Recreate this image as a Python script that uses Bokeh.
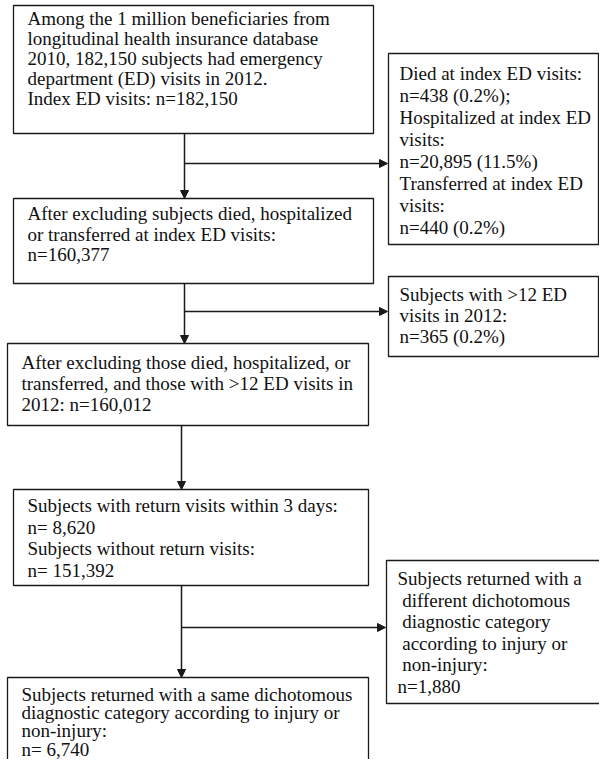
from bokeh.plotting import figure
from bokeh.models import Range1d, Arrow, NormalHead
from bokeh.core.properties import value
from bokeh.embed import file_html
from bokeh.resources import INLINE

# ---- content ----
main_texts = [
    ["Among the 1 million beneficiaries from",
     "longitudinal health insurance database",
     "2010, 182,150 subjects had emergency",
     "department (ED) visits in 2012.",
     "Index ED visits: n=182,150"],
    ["After excluding subjects died, hospitalized",
     "or transferred at index ED visits:",
     "n=160,377"],
    ["After excluding those died, hospitalized, or",
     "transferred, and those with >12 ED visits in",
     "2012: n=160,012"],
    ["Subjects with return visits within 3 days:",
     "n= 8,620",
     "Subjects without return visits:",
     "n= 151,392"],
    ["Subjects returned with a same dichotomous",
     "diagnostic category according to injury or",
     "non-injury:",
     "n= 6,740"],
]
side_texts = [
    ["Died at index ED visits:",
     "n=438 (0.2%);",
     "Hospitalized at index ED",
     "visits:",
     "n=20,895 (11.5%)",
     "Transferred at index ED",
     "visits:",
     "n=440 (0.2%)"],
    ["Subjects with >12 ED",
     "visits in 2012:",
     "n=365 (0.2%)"],
    ["Subjects returned with a",
     "\u00a0different dichotomous",
     "\u00a0diagnostic category",
     "\u00a0according to injury or",
     "\u00a0non-injury:",
     "n=1,880"],
]

# ---- layout (page pixel coordinates) ----
main_boxes = [(13, 5, 373, 133), (13, 198, 373, 283), (7, 343, 368, 425),
              (13, 489, 368, 585), (7, 677, 368, 775)]
main_lines = [(18, 20), (213, 20.5), (362, 21), (505, 21.5), (694, 18.2)]
side_boxes = [(388, 53, 598, 244), (388, 276, 598, 356), (386, 560, 600, 703)]
side_lines = [(73, 22), (294, 21), (578, 21.6)]
trunk_x = [184, 184, 181, 181]
branch_y = [163, 311, 627]

FONT = value("Liberation Serif")
INK = "#1a1a1a"

p = figure(width=599, height=759, output_backend="svg", toolbar_location=None,
           x_range=Range1d(0, 599), y_range=Range1d(759, 0),
           min_border=0, outline_line_color=None)
p.axis.visible = False
p.grid.visible = False

all_boxes = main_boxes + side_boxes
p.quad(left=[b[0] for b in all_boxes], right=[b[2] for b in all_boxes],
       top=[b[1] for b in all_boxes], bottom=[b[3] for b in all_boxes],
       fill_color=None, line_color=INK, line_width=1.3)

xs, ys, ts = [], [], []
for box, (y0, dy), lines in zip(main_boxes, main_lines, main_texts):
    for i, t in enumerate(lines):
        xs.append(box[0] + 14); ys.append(y0 + i * dy); ts.append(t)
for box, (y0, dy), lines in zip(side_boxes, side_lines, side_texts):
    for i, t in enumerate(lines):
        xs.append(box[0] + 11); ys.append(y0 + i * dy); ts.append(t)
p.text(x=xs, y=ys, text=ts, text_font=FONT, text_font_size="19px",
       text_baseline="middle", text_align="left", text_color="#111111")

# vertical arrows between main boxes
for i in range(4):
    x = trunk_x[i]
    p.add_layout(Arrow(end=NormalHead(size=8, fill_color=INK, line_color=INK),
                       x_start=x, y_start=main_boxes[i][3],
                       x_end=x, y_end=main_boxes[i + 1][1],
                       line_color=INK, line_width=1.5))
# side arrows
for k, i in enumerate([0, 1, 3]):
    x = trunk_x[i]
    p.add_layout(Arrow(end=NormalHead(size=8, fill_color=INK, line_color=INK),
                       x_start=x, y_start=branch_y[k],
                       x_end=side_boxes[k][0] - 1, y_end=branch_y[k],
                       line_color=INK, line_width=1.5))

open("out.html", "w").write(file_html(p, INLINE))
